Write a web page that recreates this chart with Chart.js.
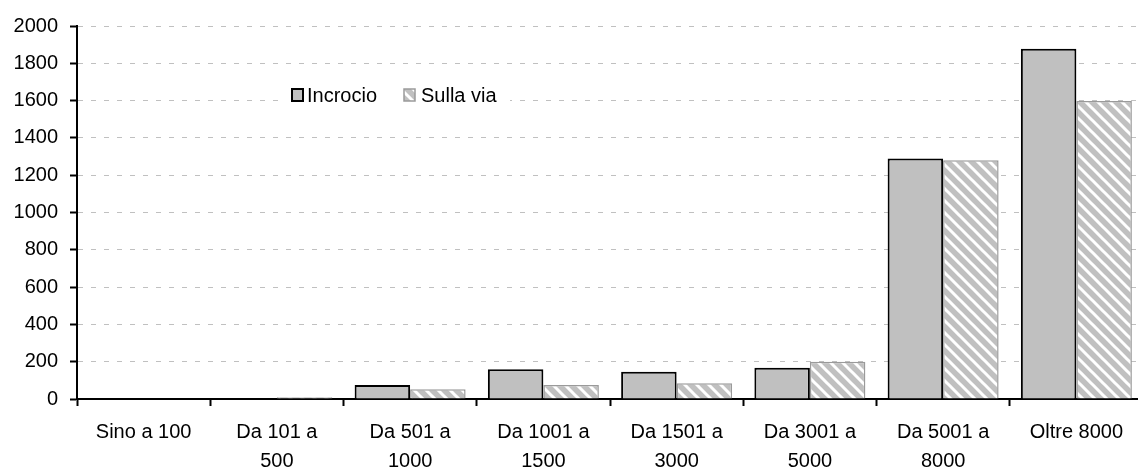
<!DOCTYPE html>
<html>
<head>
<meta charset="utf-8">
<script src="https://cdn.jsdelivr.net/npm/chart.js@4/dist/chart.umd.min.js"></script>
<style>
  html, body { margin: 0; padding: 0; background: #fff; overflow: hidden; }
  #wrap { width: 1138px; height: 469px; overflow: hidden; }
</style>
</head>
<body>
<div id="wrap"><canvas id="chart" width="1143" height="469"></canvas></div>
<script>
// dati
const categories = [
    ['Sino a 100'], ['Da 101 a', '500'], ['Da 501 a', '1000'], ['Da 1001 a', '1500'],
    ['Da 1501 a', '3000'], ['Da 3001 a', '5000'], ['Da 5001 a', '8000'], ['Oltre 8000']
];
const incrocio = [0, 0, 75, 159, 146, 168, 1290, 1878];
const sullaVia = [0, 10, 52, 75, 84, 200, 1280, 1598];
const seriesNames = ['Incrocio', 'Sulla via'];

const FONT = '"Liberation Sans", Arial, sans-serif';

// motivo a righe diagonali bianche su grigio
function makeHatch() {
    var c = document.createElement('canvas');
    c.width = 12; c.height = 12;
    var g = c.getContext('2d');
    g.fillStyle = '#c0c0c0';
    g.fillRect(0, 0, 12, 12);
    g.strokeStyle = '#ffffff';
    g.lineWidth = 3;
    g.beginPath();
    g.moveTo(-3, -3); g.lineTo(15, 15);
    g.moveTo(-3, 9); g.lineTo(3, 15);
    g.moveTo(9, -3); g.lineTo(15, 3);
    g.stroke();
    return g.createPattern(c, 'repeat');
}
const hatch = makeHatch();

// legenda dentro l'area del grafico
const boxLegend = {
    id: 'boxLegend',
    afterDraw(chart) {
        var ctx = chart.ctx;
        ctx.save();
        ctx.fillStyle = '#ffffff';
        ctx.fillRect(285, 84, 225, 22);
        ctx.font = '20px ' + FONT;
        ctx.textBaseline = 'middle';

        ctx.fillStyle = '#c0c0c0';
        ctx.fillRect(292, 89, 11, 12);
        ctx.strokeStyle = '#000';
        ctx.lineWidth = 2;
        ctx.strokeRect(292, 89, 11, 12);
        ctx.fillStyle = '#000';
        ctx.fillText(seriesNames[0], 307, 96);

        ctx.fillStyle = hatch;
        ctx.fillRect(404, 89, 11, 12);
        ctx.strokeStyle = '#9a9a9a';
        ctx.lineWidth = 1.5;
        ctx.strokeRect(404, 89, 11, 12);
        ctx.fillStyle = '#000';
        ctx.fillText(seriesNames[1], 421, 96);
        ctx.restore();
    }
};

new Chart(document.getElementById('chart').getContext('2d'), {
    type: 'bar',
    data: {
        labels: categories,
        datasets: [{
            label: seriesNames[0],
            data: incrocio,
            backgroundColor: '#c0c0c0',
            borderColor: '#000000',
            borderWidth: 2,
            categoryPercentage: 0.833,
            barPercentage: 1.0
        }, {
            label: seriesNames[1],
            data: sullaVia,
            backgroundColor: hatch,
            borderColor: '#9a9a9a',
            borderWidth: 1.5,
            categoryPercentage: 0.833,
            barPercentage: 1.0
        }]
    },
    options: {
        responsive: false,
        devicePixelRatio: 1,
        animation: false,
        layout: { padding: { top: 26, right: 0, left: 0, bottom: 0 } },
        plugins: {
            legend: { display: false },
            tooltip: { enabled: false }
        },
        scales: {
            x: {
                grid: {
                    display: true,
                    offset: true,
                    drawOnChartArea: false,
                    tickLength: 7,
                    tickColor: '#000',
                    tickWidth: 2
                },
                border: { display: true, color: '#000', width: 2 },
                ticks: {
                    color: '#000',
                    font: { family: FONT, size: 20, lineHeight: 1.45 },
                    padding: 12,
                    maxRotation: 0,
                    autoSkip: false
                },
                afterFit: function (scale) { scale.height = 70; }
            },
            y: {
                min: 0,
                max: 2000,
                ticks: {
                    stepSize: 200,
                    color: '#000',
                    font: { family: FONT, size: 20 },
                    padding: 12,
                    callback: function (v) { return String(v); }
                },
                grid: {
                    color: '#c0c0c0',
                    lineWidth: 1,
                    tickLength: 7,
                    tickColor: '#000',
                    tickWidth: 2
                },
                border: { display: true, color: '#000', width: 2, dash: [5, 8] },
                afterFit: function (scale) { scale.width = 77; }
            }
        }
    },
    plugins: [boxLegend]
});
</script>
</body>
</html>
